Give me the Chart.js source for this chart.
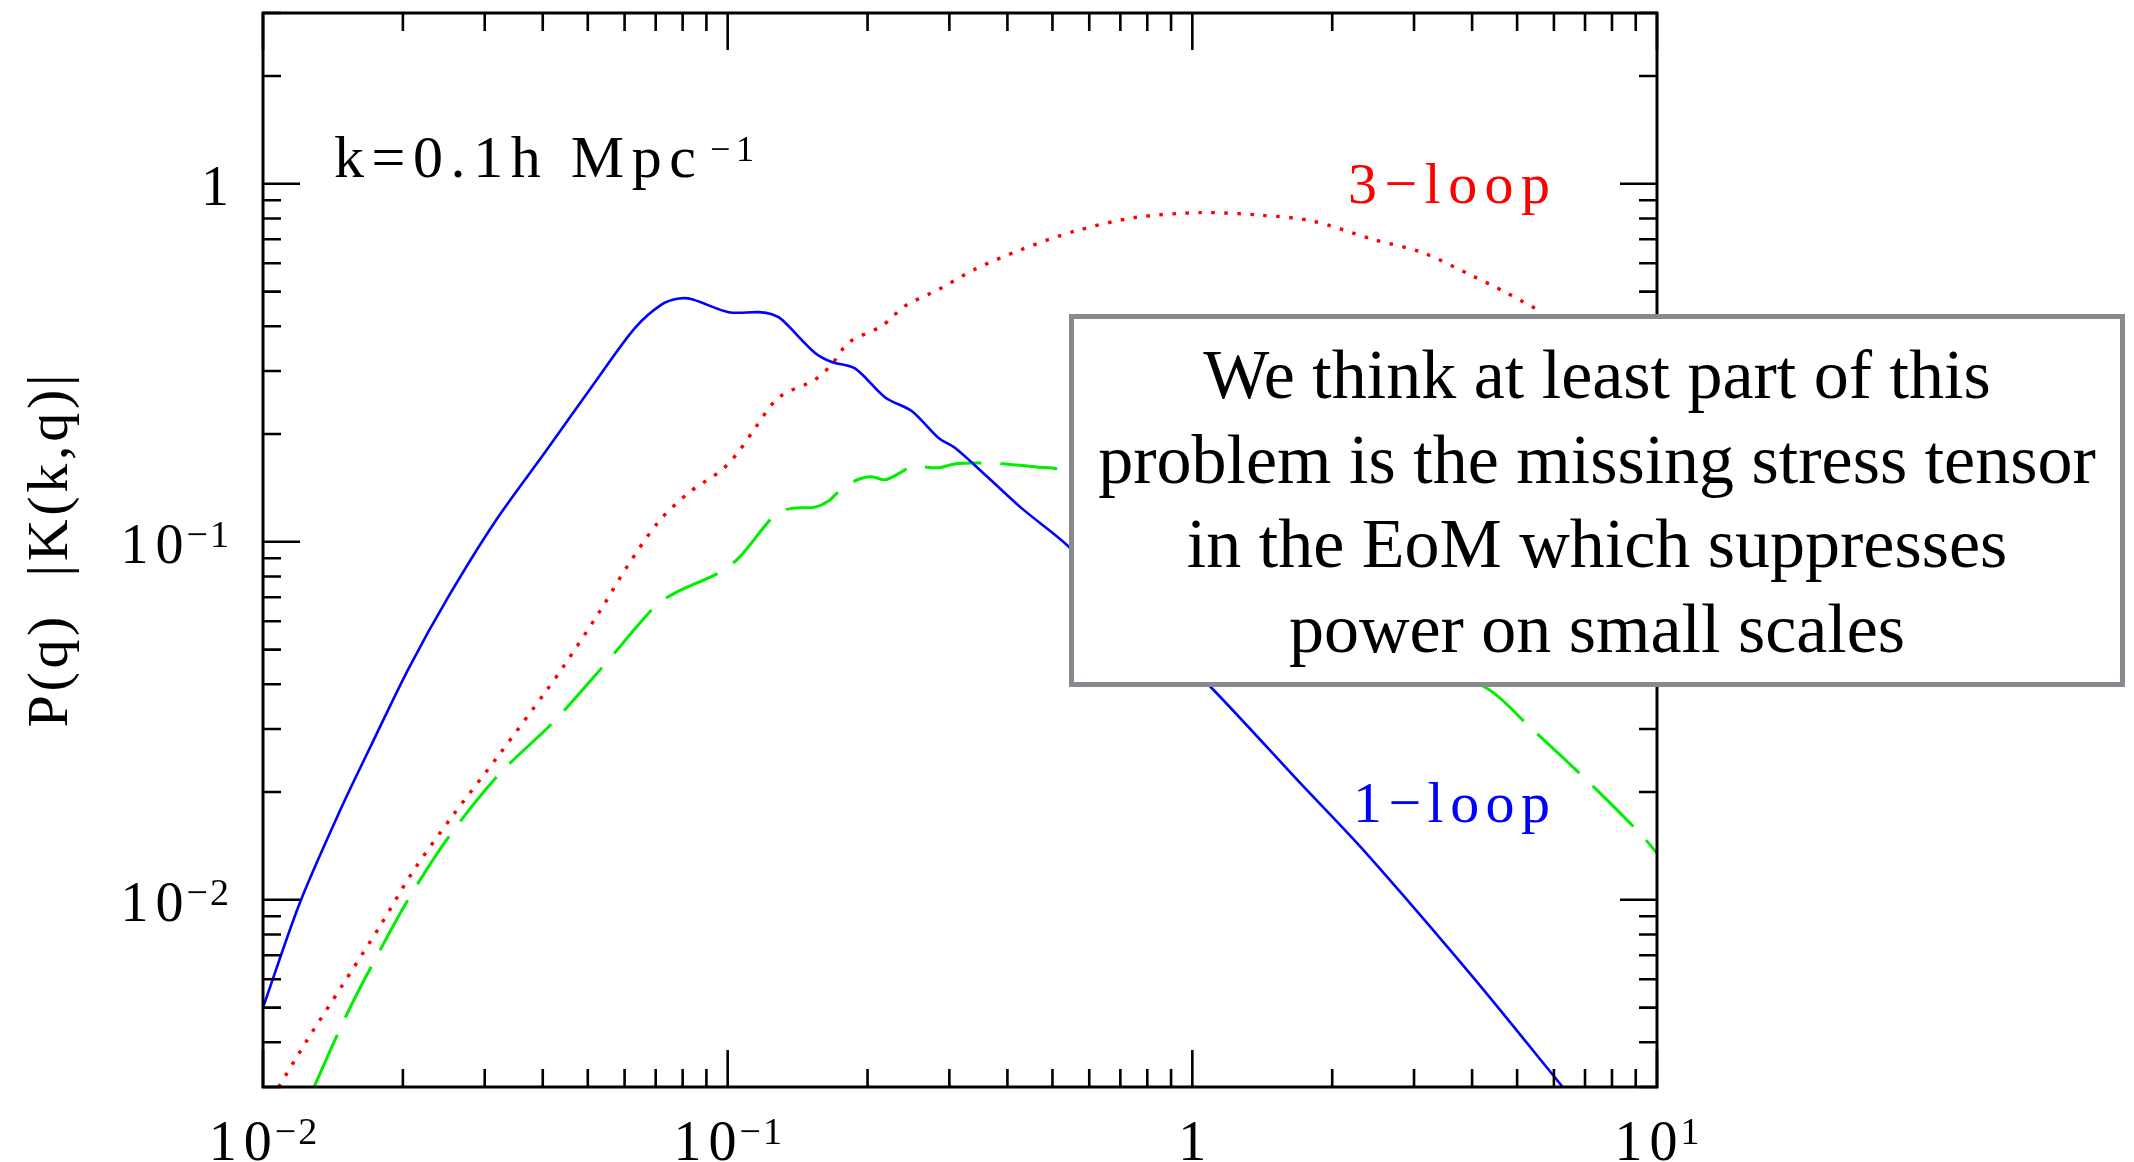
<!DOCTYPE html>
<html>
<head>
<meta charset="utf-8">
<script src="https://cdn.jsdelivr.net/npm/chart.js@4.4.1/dist/chart.umd.min.js"></script>
<style>
  html, body { margin: 0; padding: 0; background: #fff; }
  #wrap { width: 2134px; height: 1162px; position: relative; }
</style>
</head>
<body>
<div id="wrap"><canvas id="kernel_chart"></canvas></div>
<script>
// q [h/Mpc] and P(q)|K(k,q)|, k = 0.1 h/Mpc

// 1-loop (blue, solid)
const one_loop_q = [0.0100, 0.0120, 0.01469, 0.01718, 0.0206, 0.0251, 0.0316, 0.0406, 0.0519, 0.0632,
  0.0723, 0.0785, 0.0838, 0.1005, 0.1167, 0.1245, 0.1309, 0.1542, 0.1675, 0.1879,
  0.2183, 0.2489, 0.2844, 0.3083, 0.3639, 0.4295, 0.5408, 1.091, 1.718, 2.366, 4.009, 6.266]
const one_loop_val = [0.0050, 0.0098, 0.0179, 0.0274, 0.0444, 0.0705, 0.114, 0.179, 0.280, 0.396,
  0.461, 0.478, 0.476, 0.438, 0.438, 0.432, 0.417, 0.337, 0.318, 0.305,
  0.253, 0.232, 0.195, 0.183, 0.151, 0.124, 0.0972, 0.0395, 0.0210, 0.0135, 0.0061, 0.0030]

// 3-loop (red, dotted)
const three_loop_q = [0.01081, 0.01245, 0.01483, 0.01775, 0.02094, 0.02553, 0.0322, 0.0406, 0.0441, 0.0528,
  0.0612, 0.0711, 0.0824, 0.0973, 0.1057, 0.1146, 0.1288, 0.1542, 0.1675, 0.1820,
  0.2148, 0.2410, 0.2844, 0.3404, 0.4295, 0.5598, 0.7534, 1.047, 1.409, 1.816,
  2.443, 3.133, 4.009, 4.732, 5.675]
const three_loop_val = [0.0030, 0.00406, 0.00578, 0.00834, 0.0119, 0.0171, 0.0254, 0.0382, 0.0444, 0.0633,
  0.0865, 0.114, 0.137, 0.159, 0.179, 0.208, 0.253, 0.284, 0.313, 0.360,
  0.401, 0.456, 0.507, 0.577, 0.656, 0.738, 0.805, 0.831, 0.817, 0.787,
  0.700, 0.642, 0.553, 0.497, 0.437]

// third curve (green, long dashes)
const green_q = [0.01288, 0.01507, 0.01718, 0.0206, 0.0253, 0.0322, 0.0423, 0.0546, 0.0698, 0.0771,
  0.0957, 0.1057, 0.1265, 0.1374, 0.1542, 0.1648, 0.1774, 0.1928, 0.2042, 0.2183,
  0.2333, 0.2489, 0.2844, 0.3083, 0.3404, 0.3673, 0.4159, 0.4581, 0.5370,
  4.285, 5.309, 7.031, 9.162, 10.0]
const green_val = [0.0030, 0.00472, 0.00658, 0.0101, 0.0152, 0.0224, 0.0315, 0.0457, 0.066, 0.072,
  0.0819, 0.0902, 0.119, 0.124, 0.125, 0.130, 0.142, 0.150, 0.152, 0.149,
  0.155, 0.162, 0.161, 0.165, 0.166, 0.166, 0.164, 0.162, 0.157,
  0.0391, 0.0305, 0.0217, 0.0154, 0.0135]

const x_major_ticks = [0.01, 0.1, 1, 10]
const x_tick_labels = [['10', '\u22122'], ['10', '\u22121'], ['1', ''], ['10', '1']]
const y_major_ticks = [0.01, 0.1, 1]
const y_tick_labels = [['10', '\u22122'], ['10', '\u22121'], ['1', '']]

const y_title = 'P(q)  |K(k,q)|'
const k_label = 'k=0.1h Mpc'
const k_label_exp = '\u22121'
const note_lines = [
  'We think at least part of this',
  'problem is the missing stress tensor',
  'in the EoM which suppresses',
  'power on small scales'
]

const X_MIN = 0.01, X_MAX = 10, Y_MIN = 0.003, Y_MAX = 3

function to_points(qs, vals){
  return qs.map((q, i) => ({x: q, y: vals[i]}))
}

const SERIF = '"Liberation Serif", "Times New Roman", serif'

// char by char text so the wide plot-package lettering can be mimicked
function text_width(ctx, text, spacing){
  let w = 0
  for (const ch of text) w += ctx.measureText(ch).width
  return w + spacing * Math.max(0, [...text].length - 1)
}

function spaced_text(ctx, text, x, y, spacing){
  let cx = x
  for (const ch of text) {
    ctx.fillText(ch, cx, y)
    cx += ctx.measureText(ch).width + spacing
  }
}

function fit_spacing(ctx, text, target){
  const n = [...text].length
  const raw = text_width(ctx, text, 0)
  return n > 1 ? (target - raw) / (n - 1) : 0
}

// "10" plus superscript exponent; anchor 'right' or 'center'
function power_label(ctx, parts, x, y, anchor){
  ctx.font = '56px ' + SERIF
  const w1 = text_width(ctx, parts[0], 7)
  ctx.font = '38px ' + SERIF
  const w2 = parts[1] ? text_width(ctx, parts[1], 2) + 3 : 0
  const total = w1 + w2
  const x0 = anchor === 'right' ? x - total : x - total / 2
  ctx.font = '56px ' + SERIF
  spaced_text(ctx, parts[0], x0, y, 7)
  if (parts[1]) {
    ctx.font = '38px ' + SERIF
    spaced_text(ctx, parts[1], x0 + w1 + 3, y - 16, 2)
  }
}

const frame_plugin = {
  id: 'frame_plugin',
  afterDatasetsDraw(chart){
    const ctx = chart.ctx
    const area = chart.chartArea
    const xs = chart.scales.x
    const ys = chart.scales.y
    ctx.save()
    ctx.textAlign = 'left'
    ctx.textBaseline = 'alphabetic'

    // frame
    ctx.strokeStyle = '#000'
    ctx.lineWidth = 3
    ctx.strokeRect(area.left, area.top, area.right - area.left, area.bottom - area.top)

    // ticks, inward on all four sides
    const major_len = 37, minor_len = 18
    ctx.lineWidth = 2.6
    ctx.beginPath()
    for (let e = -2; e <= 1; e++) {
      for (let m = 1; m <= 9; m++) {
        const v = m * Math.pow(10, e)
        if (v < X_MIN - 1e-9 || v > X_MAX + 1e-9) continue
        const px = xs.getPixelForValue(v)
        const len = m === 1 ? major_len : minor_len
        ctx.moveTo(px, area.bottom); ctx.lineTo(px, area.bottom - len)
        ctx.moveTo(px, area.top); ctx.lineTo(px, area.top + len)
      }
    }
    for (let e = -3; e <= 0; e++) {
      for (let m = 1; m <= 9; m++) {
        const v = m * Math.pow(10, e)
        if (v < Y_MIN - 1e-9 || v > Y_MAX + 1e-9) continue
        const py = ys.getPixelForValue(v)
        const len = m === 1 ? major_len : minor_len
        ctx.moveTo(area.left, py); ctx.lineTo(area.left + len, py)
        ctx.moveTo(area.right, py); ctx.lineTo(area.right - len, py)
      }
    }
    ctx.stroke()

    // tick labels
    ctx.fillStyle = '#000'
    x_major_ticks.forEach((v, i) => {
      power_label(ctx, x_tick_labels[i], xs.getPixelForValue(v), 1160, 'center')
    })
    y_major_ticks.forEach((v, i) => {
      power_label(ctx, y_tick_labels[i], 229, ys.getPixelForValue(v) + 21, 'right')
    })

    // y title, rotated
    ctx.save()
    ctx.translate(67, 551)
    ctx.rotate(-Math.PI / 2)
    ctx.font = '58px ' + SERIF
    const sp_title = fit_spacing(ctx, y_title, 353)
    spaced_text(ctx, y_title, -176.5, 0, sp_title)
    ctx.restore()

    // k label
    ctx.font = '60px ' + SERIF
    spaced_text(ctx, k_label, 334, 177, fit_spacing(ctx, k_label, 362))
    ctx.font = '36px ' + SERIF
    spaced_text(ctx, k_label_exp, 710, 161, fit_spacing(ctx, k_label_exp, 44))

    // curve labels
    ctx.font = '58px ' + SERIF
    ctx.fillStyle = '#ff0000'
    spaced_text(ctx, '3\u2212loop', 1348, 203, fit_spacing(ctx, '3\u2212loop', 202))
    ctx.fillStyle = '#0000ff'
    spaced_text(ctx, '1\u2212loop', 1353, 822, fit_spacing(ctx, '1\u2212loop', 197))

    // note box on top of everything
    ctx.fillStyle = '#ffffff'
    ctx.fillRect(1069, 314, 1056, 373)
    ctx.strokeStyle = '#878a8f'
    ctx.lineWidth = 5
    ctx.strokeRect(1071.5, 316.5, 1051, 368)
    ctx.fillStyle = '#000'
    ctx.font = '70px ' + SERIF
    ctx.textAlign = 'center'
    const baselines = [398, 483, 567, 652]
    note_lines.forEach((line, i) => ctx.fillText(line, 1597, baselines[i]))

    ctx.restore()
  }
}

const ctx = document.getElementById('kernel_chart').getContext('2d')

const kernel_chart = new Chart(ctx, {
  type: 'line',
  data: {
    datasets: [
      {
        label: '1-loop',
        data: to_points(one_loop_q, one_loop_val),
        borderColor: '#0000ff',
        borderWidth: 2.6,
        pointRadius: 0,
        tension: 0.3
      },
      {
        label: '3-loop',
        data: to_points(three_loop_q, three_loop_val),
        borderColor: '#ff0000',
        borderWidth: 3.4,
        borderDash: [3.5, 9.5],
        pointRadius: 0,
        tension: 0.3
      },
      {
        label: 'green',
        data: to_points(green_q, green_val),
        borderColor: '#00ee00',
        borderWidth: 3,
        borderDash: [57, 19],
        pointRadius: 0,
        tension: 0.3
      }
    ]
  },
  options: {
    responsive: true,
    maintainAspectRatio: false,
    animation: false,
    layout: {
      padding: {left: 263, right: 477, top: 13, bottom: 75}
    },
    plugins: {
      legend: {display: false},
      tooltip: {enabled: false}
    },
    scales: {
      x: {type: 'logarithmic', min: X_MIN, max: X_MAX, display: false},
      y: {type: 'logarithmic', min: Y_MIN, max: Y_MAX, display: false}
    }
  },
  plugins: [frame_plugin]
})
</script>
</body>
</html>
